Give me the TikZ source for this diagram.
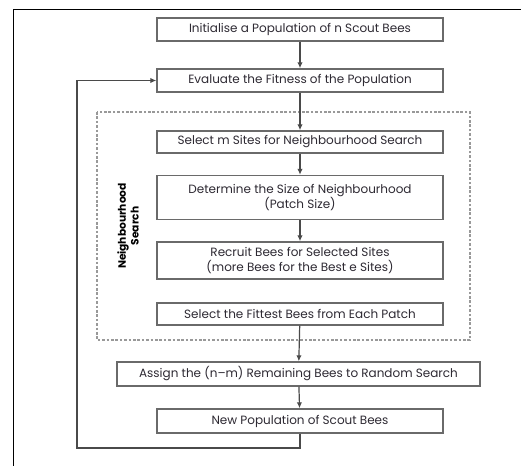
\documentclass[tikz,border=0pt]{standalone}
\usepackage{fontspec}
\setmainfont{Poppins}
\usetikzlibrary{arrows.meta}
\definecolor{txt}{HTML}{2E2A33}
\definecolor{boxc}{HTML}{6A6A6A}
\definecolor{linec}{HTML}{4A4A4A}
\begin{document}
\begin{tikzpicture}[x=0.75pt,y=-0.75pt,
  stepbox/.style={draw=boxc,line width=1pt,minimum width=286*0.75pt,inner sep=0pt,
     text=txt,font=\fontsize{9}{10.8}\selectfont,align=center},
  arr/.style={draw=linec,line width=0.9pt,-{Latex[length=4.5pt,width=4pt]}},
  conn/.style={draw=linec,line width=0.9pt}]
\useasboundingbox (0,0) rectangle (521,466);
\fill[white] (0,0) rectangle (521,466);
\draw[black,line width=1.3pt] (13.5,470) -- (13.5,9.5) -- (525,9.5);
% dashed neighbourhood region
\draw[gray!80,line width=0.9pt,dash pattern=on 2pt off 1.3pt] (97,112) rectangle (470,340);
\node[rotate=90,font=\bfseries\fontsize{8}{9.6}\selectfont,align=center,text=black] (lab) at (128,226) {Neighbourhood\\Search};
% boxes
\node[stepbox,minimum height=23*0.75pt] (b1) at (300,29.5) {Initialise a Population of n Scout Bees};
\node[stepbox,minimum height=23*0.75pt] (b2) at (300,80.5) {Evaluate the Fitness of the Population};
\node[stepbox,minimum height=22*0.75pt] (b3) at (300,142) {Select m Sites for Neighbourhood Search};
\node[stepbox,minimum height=44*0.75pt] (b4) at (300,197.5) {Determine the Size of Neighbourhood\\(Patch Size)};
\node[stepbox,minimum height=37*0.75pt] (b5) at (300,260.5) {Recruit Bees for Selected Sites\\(more Bees for the Best e Sites)};
\node[stepbox,minimum height=22*0.75pt] (b6) at (300,314) {Select the Fittest Bees from Each Patch};
\node[stepbox,minimum height=24*0.75pt,minimum width=363*0.75pt] (b7) at (298.5,374) {Assign the (n--m) Remaining Bees to Random Search};
\node[stepbox,minimum height=24*0.75pt] (b8) at (300,421) {New Population of Scout Bees};
% connectors
\draw[arr] (b1) -- (b2);
\draw[arr] (b2) -- (b3);
\draw[arr] (b3) -- (b4);
\draw[arr] (b4) -- (b5);
\draw[arr] (b6) -- (b7);
\draw[arr] (b7) -- (b8);
\coordinate (fb) at (77,448);
\draw[arr] (b8.south) |- (fb) |- (b2.west);
\end{tikzpicture}
\end{document}
